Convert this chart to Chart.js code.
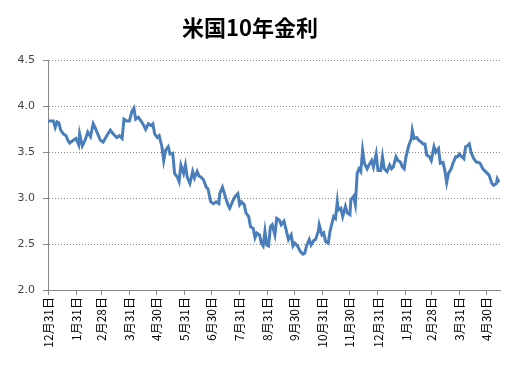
<!DOCTYPE html>
<html>
<head>
<meta charset="utf-8">
<script src="https://cdn.jsdelivr.net/npm/chart.js@4/dist/chart.umd.min.js"></script>
<style>
  html, body { margin: 0; padding: 0; background: #fff; }
</style>
</head>
<body>
<canvas id="chart" width="508" height="365"></canvas>
<script>
// US 10y yield, Dec 31 2009 - mid May 2011
// days = calendar days after 2009-12-31
const days = [
  0, 6, 8, 10, 12, 14, 17, 20, 22, 24, 28, 31, 34, 35, 38, 41, 44, 47, 50, 52,
  55, 58, 61, 65, 69, 72, 76, 79, 82, 84, 87, 90, 93, 95, 97, 100, 103, 106, 108, 111,
  114, 116, 118, 121, 123, 126, 128, 130, 133, 135, 138, 140, 143, 145, 147, 150, 152, 154, 157, 160,
  162, 165, 167, 169, 172, 175, 177, 180, 183, 186, 189, 190, 193, 196, 199, 201, 204, 207, 210, 212,
  214, 217, 219, 222, 224, 227, 229, 231, 234, 236, 238, 240, 242, 244, 246, 248, 251, 253, 256, 258,
  261, 263, 266, 269, 271, 273, 276, 279, 282, 284, 286, 289, 291, 294, 296, 299, 300, 303, 305, 307,
  310, 312, 316, 318, 320, 321, 324, 326, 329, 331, 334, 335, 338, 340, 342, 344, 346, 348, 350, 353,
  355, 358, 360, 363, 365, 368, 370, 372, 375, 378, 380, 382, 385, 387, 390, 392, 394, 396, 399, 402,
  403, 405, 408, 410, 413, 415, 417, 419, 422, 424, 427, 429, 432, 434, 437, 439, 441, 443, 446, 448,
  451, 453, 455, 458, 460, 462, 464, 466, 468, 471, 474, 476, 478, 481, 483, 486, 488, 491, 493, 496,
  497, 499
];
const yields = [
  3.84, 3.84, 3.77, 3.83, 3.82, 3.74, 3.70, 3.68, 3.63, 3.60, 3.63, 3.65, 3.58, 3.70, 3.57, 3.63, 3.72, 3.67, 3.81, 3.77,
  3.70, 3.63, 3.61, 3.68, 3.74, 3.70, 3.66, 3.68, 3.65, 3.86, 3.84, 3.84, 3.95, 3.98, 3.86, 3.88, 3.84, 3.79, 3.75, 3.81,
  3.79, 3.81, 3.70, 3.66, 3.68, 3.56, 3.41, 3.52, 3.56, 3.48, 3.49, 3.27, 3.23, 3.18, 3.36, 3.27, 3.36, 3.23, 3.16, 3.29,
  3.22, 3.29, 3.24, 3.23, 3.20, 3.12, 3.10, 2.96, 2.94, 2.96, 2.94, 3.05, 3.12, 3.02, 2.93, 2.89, 2.96, 3.02, 3.05, 2.93,
  2.96, 2.93, 2.84, 2.80, 2.69, 2.67, 2.57, 2.62, 2.60, 2.51, 2.48, 2.64, 2.49, 2.48, 2.69, 2.71, 2.60, 2.78, 2.76, 2.71,
  2.75, 2.67, 2.55, 2.60, 2.48, 2.51, 2.48, 2.42, 2.39, 2.40, 2.48, 2.55, 2.49, 2.54, 2.55, 2.64, 2.71, 2.60, 2.62, 2.53,
  2.51, 2.64, 2.80, 2.78, 2.96, 2.87, 2.89, 2.80, 2.91, 2.84, 2.82, 2.98, 3.02, 2.93, 3.27, 3.32, 3.29, 3.52, 3.38, 3.32,
  3.36, 3.41, 3.34, 3.48, 3.30, 3.30, 3.45, 3.32, 3.29, 3.36, 3.32, 3.34, 3.45, 3.41, 3.39, 3.34, 3.32, 3.45, 3.57, 3.65,
  3.74, 3.65, 3.66, 3.63, 3.61, 3.59, 3.59, 3.47, 3.45, 3.41, 3.56, 3.50, 3.54, 3.38, 3.39, 3.30, 3.17, 3.27, 3.32, 3.38,
  3.45, 3.45, 3.48, 3.45, 3.43, 3.56, 3.57, 3.59, 3.50, 3.43, 3.39, 3.39, 3.38, 3.32, 3.30, 3.27, 3.25, 3.16, 3.14, 3.16,
  3.21, 3.17
];

// month-end ticks on the x axis
const tickDays = [0, 31, 59, 90, 120, 151, 181, 212, 243, 273, 304, 334, 365, 396, 424, 455, 485];
const tickLabels = [
  "12月31日", "1月31日", "2月28日", "3月31日", "4月30日", "5月31日", "6月30日", "7月31日", "8月31日",
  "9月30日", "10月31日", "11月30日", "12月31日", "1月31日", "2月28日", "3月31日", "4月30日"
];

const points = days.map((d, i) => ({ x: d, y: yields[i] }));

const ctx = document.getElementById("chart");

new Chart(ctx, {
  type: "line",
  data: {
    datasets: [
      {
        label: "米国10年金利",
        data: points,
        borderColor: "#4a7ebb",
        borderWidth: 3,
        pointRadius: 0,
        tension: 0,
        fill: false,
      },
    ],
  },
  options: {
    responsive: false,
    animation: false,
    layout: { padding: { left: 0, right: 8, top: 0, bottom: 0 } },
    plugins: {
      legend: { display: false },
      tooltip: { enabled: false },
      title: {
        display: true,
        text: "米国10年金利",
        color: "#000",
        font: { family: "'Noto Sans CJK JP', sans-serif", size: 22, weight: "bold" },
        padding: { top: 14, bottom: 20 },
      },
    },
    scales: {
      x: {
        type: "linear",
        min: 0,
        max: 500,
        afterBuildTicks: (scale) => {
          scale.ticks = tickDays.map((v) => ({ value: v }));
        },
        afterFit: (scale) => {
          scale.height = 75;
        },
        ticks: {
          autoSkip: false,
          minRotation: 90,
          maxRotation: 90,
          padding: 2,
          color: "#000",
          font: { family: "'Noto Sans CJK JP', sans-serif", size: 12 },
          callback: (value, index) => tickLabels[index],
        },
        grid: {
          drawOnChartArea: false,
          color: "#888",
          tickLength: 5,
        },
        border: { color: "#888", width: 1 },
      },
      y: {
        min: 2,
        max: 4.5,
        afterFit: (scale) => {
          scale.width = 48;
        },
        ticks: {
          stepSize: 0.5,
          padding: 8,
          color: "#444",
          font: { family: "'DejaVu Sans', sans-serif", size: 11 },
          callback: (v) => v.toFixed(1),
        },
        grid: {
          color: "#888",
          tickBorderDash: [],
          tickLength: 5,
        },
        border: { color: "#888", width: 1, dash: [1, 2] },
      },
    },
  },
});
</script>
</body>
</html>
